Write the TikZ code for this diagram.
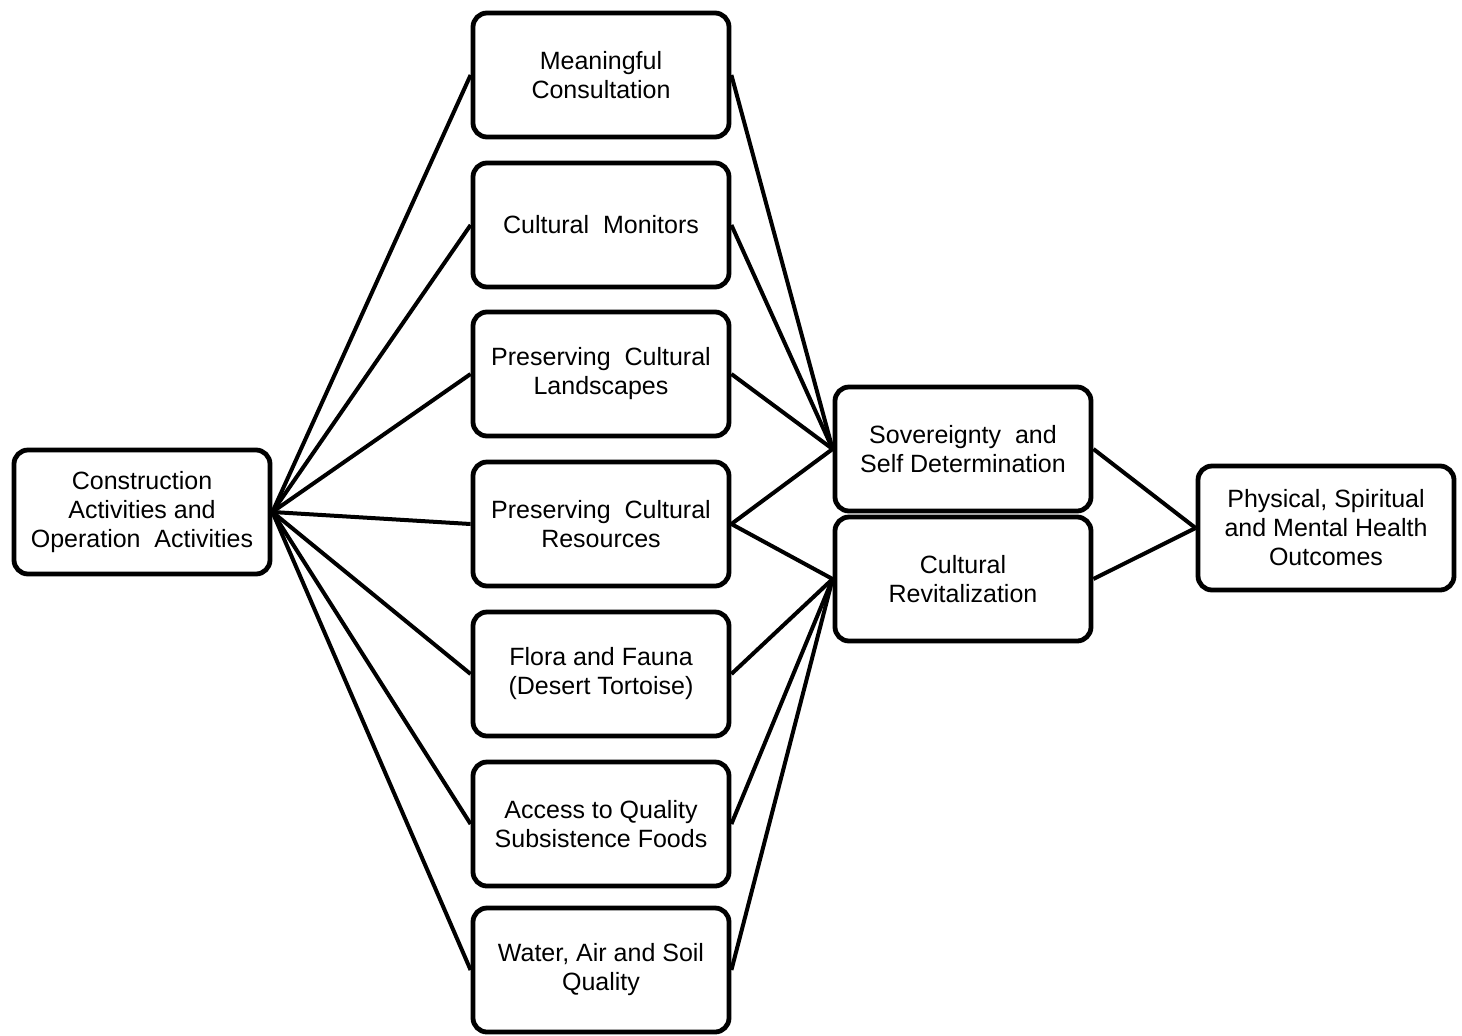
\documentclass[tikz,border=0pt]{standalone}
\usepackage{fontspec}
\setmainfont{Liberation Sans}
\begin{document}
\begin{tikzpicture}[x=0.5pt,y=-0.5pt,
   box/.style={draw, line width=2.4pt, rounded corners=7pt, align=center,
      minimum width=128pt, minimum height=62pt, inner sep=2pt,
      font=\fontsize{12.5}{14.5}\selectfont},
   link/.style={line width=2pt}]
   \useasboundingbox (0,0) rectangle (1462,1035);

   \node[box] (con) at (142,512) {Construction\\Activities and\\Operation\ \ Activities};

   \node[box] (m1) at (601,75) {Meaningful\\Consultation};
   \node[box] (m2) at (601,225) {Cultural\ \ Monitors};
   \node[box] (m3) at (601,374) {Preserving\ \ Cultural\\Landscapes};
   \node[box] (m4) at (601,524) {Preserving\ \ Cultural\\Resources};
   \node[box] (m5) at (601,674) {Flora and Fauna\\(Desert Tortoise)};
   \node[box] (m6) at (601,824) {Access to Quality\\Subsistence Foods};
   \node[box] (m7) at (601,970) {Water, Air and Soil\\Quality};

   \node[box] (sov) at (963,449) {Sovereignty\ \ and\\Self Determination};
   \node[box] (rev) at (963,579) {Cultural\\Revitalization};

   \node[box] (out) at (1326,528) {Physical, Spiritual\\and Mental Health\\Outcomes};

   \foreach \m in {1,...,7}
   \draw[link] (con.east) -- (m\m.west);

   \foreach \m in {1,...,4}
   \draw[link] (m\m.east) -- (sov.west);
   \foreach \m in {4,...,7}
   \draw[link] (m\m.east) -- (rev.west);

   \draw[link] (sov.east) -- (out.west);
   \draw[link] (rev.east) -- (out.west);

\end{tikzpicture}
\end{document}
